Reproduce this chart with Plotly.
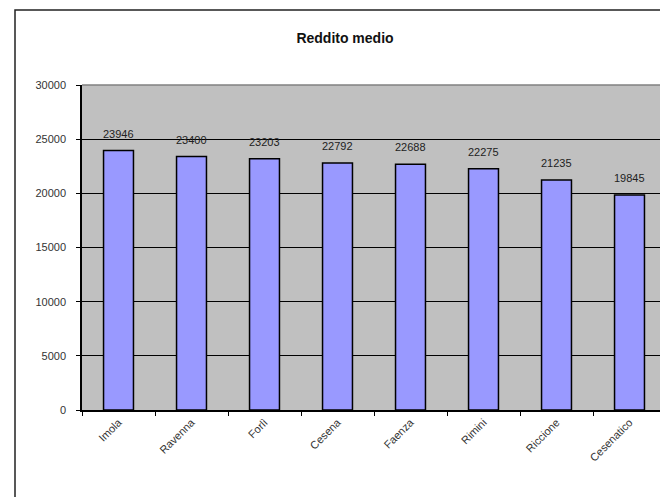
import plotly.graph_objects as go

categories = ["Imola", "Ravenna", "Forlì", "Cesena", "Faenza", "Rimini", "Riccione", "Cesenatico"]
values = [23946, 23400, 23203, 22792, 22688, 22275, 21235, 19845]
value_labels = ["23946", "23400", "23203", "22792", "22688", "22275", "21235", "19845"]
y_ticks = [0, 5000, 10000, 15000, 20000, 25000, 30000]
y_tick_labels = ["0", "5000", "10000", "15000", "20000", "25000", "30000"]

FONT = "Liberation Sans, Arial, sans-serif"

# the page body has an 8px margin, so the figure is drawn 8px in from the window edge
W, H = 660, 489
L, T = 74, 77
PW, PH = 584, 325

fig = go.Figure()
fig.add_trace(go.Bar(
    x=categories, y=values,
    marker=dict(color="#9999FF", line=dict(color="#000000", width=1.5)),
    width=0.41,
))

for c, v, t in zip(categories, values, value_labels):
    fig.add_annotation(x=c, y=v, text=t, showarrow=False, yshift=17,
                       font=dict(family=FONT, size=11, color="#222222"))

fig.update_layout(
    width=W, height=H,
    margin=dict(l=L, r=W - L - PW, t=T, b=H - T - PH, autoexpand=False),
    paper_bgcolor="white",
    plot_bgcolor="#C0C0C0",
    showlegend=False,
    title=dict(text="<b>Reddito medio</b>", x=(345 - 8) / W, xanchor="center",
               y=1 - (38 - 8) / H, yanchor="middle",
               font=dict(family=FONT, size=14, color="#111111")),
    xaxis=dict(
        type="category", tickson="boundaries", ticks="outside", ticklen=4,
        tickcolor="#000000", showline=True, linecolor="#000000", linewidth=1.5,
        tickangle=-45, tickfont=dict(family=FONT, size=11, color="#333333"),
        showgrid=False, automargin=False,
    ),
    yaxis=dict(
        range=[0, 30000], tickvals=y_ticks, ticktext=y_tick_labels,
        ticks="outside", ticklen=4, tickcolor="#000000",
        showline=True, linecolor="#000000", linewidth=1.5,
        showgrid=True, gridcolor="#000000", gridwidth=1,
        zeroline=False, automargin=False, ticklabelstandoff=8,
        tickfont=dict(family=FONT, size=11, color="#333333"),
    ),
    shapes=[
        dict(type="line", xref="paper", yref="paper", x0=0, x1=1, y0=1, y1=1,
             line=dict(color="#808080", width=1.5), layer="above"),
        dict(type="line", xref="paper", yref="paper", x0=1, x1=1, y0=0, y1=1,
             line=dict(color="#808080", width=1), layer="above"),
        dict(type="rect", xref="paper", yref="paper",
             x0=(15 - 82) / PW, x1=1.2, y0=-0.6, y1=(410 - 10) / PH,
             line=dict(color="#222222", width=1.5), layer="below"),
    ],
)

fig.write_html("out.html")
